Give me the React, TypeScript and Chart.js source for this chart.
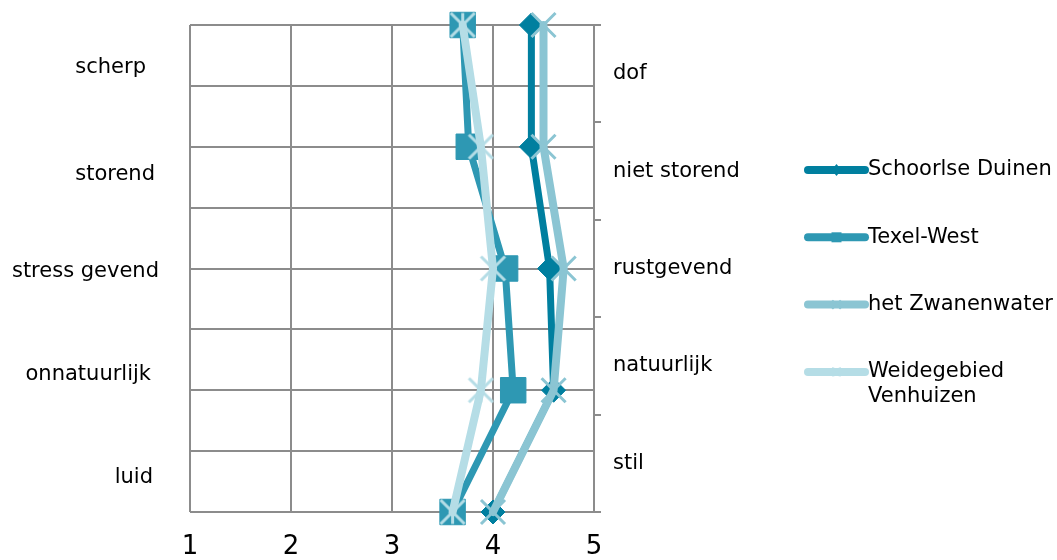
import React, { useEffect, useRef } from 'react';
import { Chart, registerables } from 'chart.js';

Chart.register(...registerables);

const FONT = "'DejaVu Sans', Verdana, sans-serif";
const GRID = '#8c8c8c';
const TEXT = '#000000';

// Category pairs (left = negative pole, right = positive pole)
const leftLabels = ['scherp', 'storend', 'stress gevend', 'onnatuurlijk', 'luid'];
const rightLabels = ['dof', 'niet storend', 'rustgevend', 'natuurlijk', 'stil'];
const xTickValues = [1, 2, 3, 4, 5];

const seriesNames = ['Schoorlse Duinen', 'Texel-West', 'het Zwanenwater', 'Weidegebied\nVenhuizen'];
const schoorlseDuinen = [4.38, 4.38, 4.56, 4.6, 4.0];
const texelWest = [3.7, 3.76, 4.12, 4.2, 3.6];
const zwanenwater = [4.5, 4.5, 4.7, 4.6, 4.0];
const weidegebied = [3.7, 3.88, 4.0, 3.88, 3.6];

// styling / layout (not data)
const seriesColors = ['#007f9f', '#2e98b3', '#8bc5d3', '#b5dde6'];
const seriesMarkers = ['rectRot', 'rect', 'crossRot', 'excelStar'];
const lineWidths = [7, 7, 8, 8];
const markerRadii = [12, 18, 17, 17];
const markerBorderWidths = [1, 1, 3, 3];
const leftLabelFractions = [0.0883, 0.308, 0.5072, 0.7187, 0.9302];
const leftLabelRightEdges = [146, 155, 159, 151, 153];

function makeStarCanvas(color: string, r: number, lw: number) {
  const size = Math.ceil(2 * r + lw + 2);
  const c = document.createElement('canvas');
  c.width = size;
  c.height = size;
  const g = c.getContext('2d')!;
  const m = size / 2;
  const d = r * Math.SQRT1_2;
  g.strokeStyle = color;
  g.lineWidth = lw;
  g.beginPath();
  g.moveTo(m - d, m - d);
  g.lineTo(m + d, m + d);
  g.moveTo(m + d, m - d);
  g.lineTo(m - d, m + d);
  g.moveTo(m, m - d);
  g.lineTo(m, m + d);
  g.stroke();
  return c;
}

function drawMarker(ctx: CanvasRenderingContext2D, style: string, x: number, y: number, r: number, color: string) {
  ctx.save();
  ctx.fillStyle = color;
  ctx.strokeStyle = color;
  ctx.lineWidth = 2;
  ctx.beginPath();
  if (style === 'rectRot') {
    ctx.moveTo(x, y - r);
    ctx.lineTo(x + r * 0.8, y);
    ctx.lineTo(x, y + r);
    ctx.lineTo(x - r * 0.8, y);
    ctx.closePath();
    ctx.fill();
  } else if (style === 'rect') {
    ctx.rect(x - r, y - r, 2 * r, 2 * r);
    ctx.fill();
  } else {
    const d = r * Math.SQRT1_2;
    ctx.moveTo(x - d, y - d);
    ctx.lineTo(x + d, y + d);
    ctx.moveTo(x + d, y - d);
    ctx.lineTo(x - d, y + d);
    if (style === 'excelStar') {
      ctx.moveTo(x - 3, y - d);
      ctx.lineTo(x - 3, y + d);
      ctx.moveTo(x + 3, y - d);
      ctx.lineTo(x + 3, y + d);
    }
    ctx.stroke();
  }
  ctx.restore();
}

const sidePlugin = {
  id: 'sideText',
  afterDraw(chart: any) {
    const ctx: CanvasRenderingContext2D = chart.ctx;
    const { top, bottom, right } = chart.chartArea;
    const h = bottom - top;
    ctx.save();
    ctx.font = `21px ${FONT}`;
    ctx.fillStyle = TEXT;
    ctx.textBaseline = 'middle';
    // left pole labels
    ctx.textAlign = 'right';
    leftLabels.forEach((lab, i) => {
      ctx.fillText(lab, leftLabelRightEdges[i], top + h * leftLabelFractions[i]);
    });
    // legend
    const lx0 = right + 214;
    const lx1 = right + 271;
    const tx = right + 274;
    seriesNames.forEach((name, i) => {
      const y = 170 + i * 67.3;
      ctx.save();
      ctx.strokeStyle = seriesColors[i];
      ctx.lineWidth = 8;
      ctx.lineCap = 'round';
      ctx.beginPath();
      ctx.moveTo(lx0, y);
      ctx.lineTo(lx1, y);
      ctx.stroke();
      ctx.restore();
      drawMarker(ctx, seriesMarkers[i], (lx0 + lx1) / 2, y, seriesMarkers[i] === 'rect' ? 5 : 6, seriesColors[i]);
      ctx.textAlign = 'left';
      ctx.fillStyle = TEXT;
      name.split('\n').forEach((line, k) => ctx.fillText(line, tx, y + k * 25));
    });
    ctx.restore();
  },
};

export default function App() {
  const ref = useRef<HTMLCanvasElement>(null);

  useEffect(() => {
    if (!ref.current) return;
    Chart.defaults.font.family = FONT;
    const allValues = [schoorlseDuinen, texelWest, zwanenwater, weidegebied];
    const datasets = allValues.map((vals, i) => ({
      label: seriesNames[i],
      data: vals.map((v, j) => ({ x: v, y: j })),
      borderColor: seriesColors[i],
      backgroundColor: seriesColors[i],
      borderWidth: lineWidths[i],
      borderCapStyle: 'round',
      borderJoinStyle: 'round',
      pointStyle:
        seriesMarkers[i] === 'excelStar'
          ? makeStarCanvas(seriesColors[i], markerRadii[i], markerBorderWidths[i])
          : seriesMarkers[i],
      pointRadius: markerRadii[i],
      pointHoverRadius: markerRadii[i],
      pointBorderWidth: markerBorderWidths[i],
      pointBackgroundColor: seriesColors[i],
      pointBorderColor: seriesColors[i],
      showLine: true,
      tension: 0,
      clip: false,
      order: allValues.length - i,
      xAxisID: 'x',
      yAxisID: 'y',
    }));

    const chart = new Chart(ref.current, {
      type: 'scatter',
      data: { datasets } as any,
      plugins: [sidePlugin],
      options: {
        animation: false,
        responsive: true,
        maintainAspectRatio: false,
        layout: { padding: { top: 25, left: 0, right: 0, bottom: 0 } },
        plugins: { legend: { display: false }, tooltip: { enabled: false } },
        scales: {
          x: {
            type: 'linear',
            position: 'bottom',
            min: xTickValues[0],
            max: xTickValues[xTickValues.length - 1],
            afterBuildTicks: (s: any) => {
              s.ticks = xTickValues.map((v) => ({ value: v }));
            },
            ticks: { font: { size: 26, family: FONT }, color: TEXT, padding: 20, maxRotation: 0 },
            grid: { color: GRID, lineWidth: 2, drawTicks: false },
            border: { display: false },
            afterFit: (s: any) => {
              s.height = 48;
            },
          },
          y: {
            type: 'linear',
            position: 'left',
            min: 0,
            max: leftLabels.length - 1,
            reverse: true,
            ticks: { stepSize: 0.5, display: false },
            grid: { color: GRID, lineWidth: 2, drawTicks: false },
            border: { display: false },
            afterFit: (s: any) => {
              s.width = 190;
            },
          },
          yRight: {
            type: 'category',
            position: 'right',
            labels: rightLabels,
            offset: true,
            ticks: { font: { size: 21, family: FONT }, color: TEXT, padding: 12 },
            grid: { drawOnChartArea: false, drawTicks: true, tickLength: 7, color: GRID, lineWidth: 2, offset: true },
            border: { display: true, color: GRID, width: 2 },
            afterFit: (s: any) => {
              s.width = 463;
            },
          },
        },
      } as any,
    });
    return () => chart.destroy();
  }, []);

  return (
    <div style={{ position: 'fixed', left: 0, top: 0, width: 1057, height: 560, background: '#ffffff' }}>
      <canvas ref={ref} />
    </div>
  );
}
